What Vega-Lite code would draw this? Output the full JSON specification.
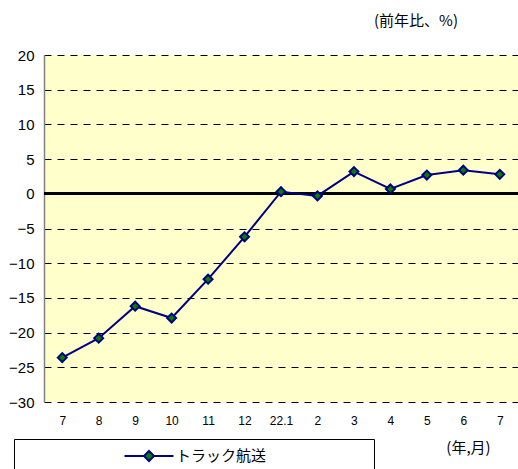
{
  "$schema": "https://vega.github.io/schema/vega-lite/v6.json",
  "width": 474,
  "height": 347,
  "autosize": {"type": "none"},
  "padding": {"left": 44, "top": 55, "right": 0, "bottom": 67},
  "background": "white",
  "title": {
    "text": "(前年比、%)",
    "anchor": "end",
    "dx": -61,
    "offset": 19,
    "font": "Noto Sans CJK JP",
    "fontSize": 15,
    "fontWeight": "normal",
    "color": "#000"
  },
  "config": {
    "view": {"fill": "#FFFFCC", "stroke": null},
    "axisY": {
      "grid": true,
      "gridDash": [7, 6],
      "gridColor": "#000",
      "gridWidth": 1,
      "gridOpacity": 1,
      "domain": true,
      "domainColor": "#808080",
      "domainWidth": 1.5,
      "ticks": false,
      "labelFont": "Liberation Sans",
      "labelFontSize": 15,
      "labelColor": "#000",
      "labelPadding": 10,
      "tickCount": 10
    },
    "axisX": {
      "grid": false,
      "domain": false,
      "ticks": false,
      "labelAngle": 0,
      "labelFont": "Liberation Sans",
      "labelFontSize": 12,
      "labelColor": "#000",
      "labelPadding": 13,
      "titleFont": "Noto Sans CJK JP",
      "titleFontSize": 15,
      "titleFontWeight": "normal",
      "titleColor": "#000",
      "titleX": 424,
      "titleY": 45,
      "titleAlign": "center",
      "titleBaseline": "middle"
    }
  },
  "data": {
    "values": [
      {"period": "2021-07", "value": -23.6, "series": "トラック航送"},
      {"period": "2021-08", "value": -20.8, "series": "トラック航送"},
      {"period": "2021-09", "value": -16.2, "series": "トラック航送"},
      {"period": "2021-10", "value": -17.9, "series": "トラック航送"},
      {"period": "2021-11", "value": -12.3, "series": "トラック航送"},
      {"period": "2021-12", "value": -6.2, "series": "トラック航送"},
      {"period": "2022-01", "value": 0.3, "series": "トラック航送"},
      {"period": "2022-02", "value": -0.3, "series": "トラック航送"},
      {"period": "2022-03", "value": 3.2, "series": "トラック航送"},
      {"period": "2022-04", "value": 0.7, "series": "トラック航送"},
      {"period": "2022-05", "value": 2.7, "series": "トラック航送"},
      {"period": "2022-06", "value": 3.4, "series": "トラック航送"},
      {"period": "2022-07", "value": 2.8, "series": "トラック航送"}
    ]
  },
  "layer": [
    {
      "mark": {"type": "rule", "color": "#000", "strokeWidth": 2},
      "encoding": {
        "y": {"datum": 0, "type": "quantitative", "title": null, "scale": {"domain": [-30, 20], "nice": false}}
      }
    },
    {
      "mark": {"type": "line", "strokeWidth": 2},
      "encoding": {
        "x": {
          "field": "period",
          "type": "ordinal",
          "sort": null,
          "scale": {"type": "point", "padding": 0.5},
          "title": "(年,月)",
          "axis": {"labelExpr": "datum.value == '2022-01' ? '22.1' : '' + toNumber(slice(datum.value, 5))"}
        },
        "y": {"field": "value", "type": "quantitative", "title": null, "scale": {"domain": [-30, 20], "nice": false}},
        "stroke": {
          "field": "series",
          "type": "nominal",
          "scale": {"range": ["#000080"]},
          "legend": {
            "title": null,
            "orient": "none",
            "legendX": -30,
            "legendY": 384,
            "direction": "horizontal",
            "padding": 6,
            "strokeColor": "#000",
            "fillColor": "#fff",
            "symbolType": "M-2.45,0L-0.5,0M0.5,0L2.45,0M0,-0.5L0.5,0L0,0.5L-0.5,0Z",
            "symbolSize": 400,
            "symbolStrokeWidth": 2,
            "symbolOffset": 118,
            "labelOffset": 16,
            "labelLimit": 400,
            "labelFont": "Noto Sans CJK JP",
            "labelFontSize": 15,
            "labelColor": "#000",
            "labelExpr": "datum.label + '\u3000\u3000\u3000\u3000\u3000\u3000\u2800'",
            "encode": {"symbols": {"update": {"fill": {"value": "#008000"}, "fillOpacity": {"value": 1}, "opacity": {"value": 1}}}}
          }
        }
      }
    },
    {
      "mark": {"type": "point", "shape": "diamond", "filled": true, "fill": "#008000", "stroke": "#000080", "strokeWidth": 2, "size": 80, "opacity": 1},
      "encoding": {
        "x": {"field": "period", "type": "ordinal", "sort": null, "title": "(年,月)"},
        "y": {"field": "value", "type": "quantitative", "title": null}
      }
    }
  ]
}
